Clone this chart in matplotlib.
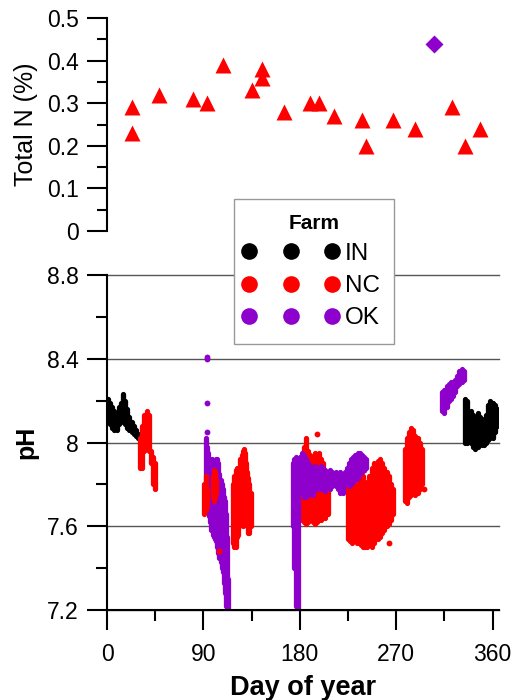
import matplotlib
matplotlib.use("Agg")
import matplotlib.pyplot as plt
from matplotlib.lines import Line2D
from matplotlib.legend_handler import HandlerLine2D
from matplotlib.ticker import FixedLocator, FixedFormatter

plt.rcParams['font.family'] = ['Liberation Sans', 'DejaVu Sans']

RED = '#FF0000'
PURPLE = '#8E00CC'
BLACK = '#000000'

# ---------------- Top panel data: Total N (%) ----------------
tn_nc_day = [23, 23, 48.5, 80, 93, 108, 135, 144.5, 145, 165, 190, 198, 212, 238.5, 242, 267, 288, 322.5, 334.5, 348.5]
tn_nc_val = [0.29, 0.23, 0.32, 0.31, 0.30, 0.39, 0.33, 0.38, 0.36, 0.28, 0.30, 0.30, 0.27, 0.26, 0.20, 0.26, 0.24, 0.29, 0.20, 0.24]
tn_ok_day = [305]
tn_ok_val = [0.44]

# ---------------- Bottom panel data: pH ranges per day ----------------
in1_day = [1, 3, 5, 7, 9, 11, 13, 15, 17, 19, 21, 23, 25, 27, 29]
in1_lo = [8.10, 8.09, 8.07, 8.06, 8.06, 8.09, 8.10, 8.11, 8.09, 8.07, 8.06, 8.05, 8.04, 8.03, 8.02]
in1_hi = [8.21, 8.19, 8.17, 8.15, 8.14, 8.17, 8.19, 8.23, 8.20, 8.16, 8.12, 8.10, 8.08, 8.06, 8.04]

nc1_day = [31, 33, 35, 37, 39, 41, 43, 45]
nc1_lo = [7.88, 7.88, 7.96, 7.98, 7.96, 7.90, 7.80, 7.78]
nc1_hi = [8.02, 8.08, 8.13, 8.15, 8.13, 7.96, 7.93, 7.90]

ok1_day = [92, 93, 94, 95, 96, 97, 98, 99, 100, 101, 102, 103, 104, 105, 106, 107, 108, 109, 110, 111, 112, 113]
ok1_lo = [7.70, 7.70, 7.68, 7.65, 7.62, 7.58, 7.58, 7.56, 7.55, 7.54, 7.53, 7.50, 7.47, 7.45, 7.43, 7.40, 7.38, 7.33, 7.28, 7.22, 7.20, 7.20]
ok1_hi = [8.02, 7.98, 7.95, 7.92, 7.88, 7.90, 7.92, 7.90, 7.88, 7.90, 7.92, 7.92, 7.90, 7.85, 7.82, 7.80, 7.78, 7.74, 7.72, 7.66, 7.55, 7.35]
ok1_pt_day = [93, 93, 93, 93]
ok1_pt_val = [8.40, 8.41, 8.19, 8.05]

nc2_day = [91, 92, 93, 99, 100, 101, 102]
nc2_lo = [7.66, 7.68, 7.70, 7.74, 7.72, 7.74, 7.76]
nc2_hi = [7.80, 7.84, 7.78, 7.84, 7.87, 7.86, 7.82]
nc2_pt_day = [105]
nc2_pt_val = [7.48]

nc3_day = [118, 119, 120, 121, 122, 123, 124, 125, 126, 127, 128, 129, 130, 131, 132, 133, 134]
nc3_lo = [7.52, 7.50, 7.50, 7.55, 7.56, 7.60, 7.62, 7.63, 7.62, 7.60, 7.62, 7.64, 7.62, 7.60, 7.57, 7.57, 7.60]
nc3_hi = [7.80, 7.84, 7.87, 7.88, 7.86, 7.88, 7.92, 7.90, 7.94, 7.96, 7.97, 7.95, 7.90, 7.86, 7.83, 7.80, 7.76]

ok2_day = [174, 175, 176, 177, 178]
ok2_lo = [7.60, 7.40, 7.22, 7.20, 7.20]
ok2_hi = [7.90, 7.92, 7.93, 7.90, 7.85]

nc4_day = [182, 184, 186, 188, 190, 192, 194, 196, 198, 200, 202, 204, 206]
nc4_lo = [7.63, 7.62, 7.61, 7.62, 7.63, 7.62, 7.61, 7.62, 7.63, 7.63, 7.64, 7.64, 7.66]
nc4_hi = [7.93, 7.98, 8.02, 7.96, 7.94, 7.93, 7.95, 7.94, 7.95, 7.92, 7.90, 7.85, 7.80]
nc4_pt_day = [196]
nc4_pt_val = [8.04]

ok3_day = [180, 182, 184, 186, 188, 190, 192, 194, 196, 198, 200, 202, 204, 206, 208, 210,
           212, 214, 216, 218, 220, 222, 224, 226, 228, 230, 232, 234, 236, 238, 240, 242]
ok3_lo = [7.80, 7.76, 7.74, 7.74, 7.75, 7.76, 7.75, 7.78, 7.78, 7.79, 7.78, 7.79, 7.77, 7.79, 7.78, 7.79,
          7.80, 7.79, 7.78, 7.76, 7.76, 7.80, 7.80, 7.79, 7.80, 7.81, 7.82, 7.83, 7.85, 7.86, 7.87, 7.88]
ok3_hi = [7.93, 7.95, 7.94, 7.92, 7.90, 7.89, 7.88, 7.89, 7.88, 7.87, 7.89, 7.88, 7.87, 7.86, 7.87, 7.86,
          7.85, 7.86, 7.85, 7.86, 7.85, 7.86, 7.88, 7.90, 7.92, 7.93, 7.94, 7.95, 7.95, 7.94, 7.93, 7.92]

nc5_day = [225, 227, 229, 231, 233, 235, 237, 239, 241, 243, 245, 247, 249, 251, 253, 255, 257, 259, 261, 263, 265, 267]
nc5_lo = [7.54, 7.53, 7.52, 7.53, 7.52, 7.52, 7.51, 7.50, 7.50, 7.50, 7.51, 7.50, 7.52, 7.55, 7.54, 7.55, 7.57, 7.58, 7.60, 7.61, 7.63, 7.66]
nc5_hi = [7.79, 7.78, 7.79, 7.80, 7.79, 7.83, 7.85, 7.84, 7.81, 7.80, 7.84, 7.88, 7.90, 7.89, 7.91, 7.92, 7.90, 7.88, 7.86, 7.84, 7.80, 7.78]
nc5_pt_day = [240, 263]
nc5_pt_val = [7.87, 7.52]

nc6_day = [278, 280, 282, 284, 286, 288, 290, 292, 294]
nc6_lo = [7.72, 7.71, 7.74, 7.75, 7.76, 7.75, 7.76, 7.78, 7.80]
nc6_hi = [7.97, 8.02, 8.05, 8.07, 8.06, 8.03, 8.02, 8.00, 7.97]
nc6_pt_day = [296]
nc6_pt_val = [7.78]

ok4_day = [313, 315, 317, 319, 321, 323, 325, 327, 329, 331, 333]
ok4_lo = [8.15, 8.14, 8.17, 8.20, 8.21, 8.22, 8.24, 8.27, 8.28, 8.29, 8.30]
ok4_hi = [8.24, 8.25, 8.27, 8.28, 8.29, 8.29, 8.30, 8.32, 8.34, 8.35, 8.34]

in2_day = [334, 336, 338, 340, 342, 344, 346, 348, 350, 352, 354, 356, 358, 360, 362, 364]
in2_lo = [8.00, 8.00, 8.02, 8.00, 7.98, 7.97, 7.98, 8.00, 7.99, 7.99, 8.00, 8.01, 8.02, 8.02, 8.05, 8.08]
in2_hi = [8.21, 8.20, 8.14, 8.15, 8.13, 8.12, 8.14, 8.12, 8.11, 8.10, 8.13, 8.18, 8.20, 8.19, 8.18, 8.16]

farms = ['IN', 'NC', 'OK']
farm_colors = [BLACK, RED, PURPLE]

x_ticks = [0, 90, 180, 270, 360]
x_ticklabels = ['0', '90', '180', '270', '360']
x_minor = [45, 135, 225, 315]
tn_ticks = [0, 0.1, 0.2, 0.3, 0.4, 0.5]
tn_ticklabels = ['0', '0.1', '0.2', '0.3', '0.4', '0.5']
tn_minor = [0.05, 0.15, 0.25, 0.35, 0.45]
ph_ticks = [7.2, 7.6, 8.0, 8.4, 8.8]
ph_ticklabels = ['7.2', '7.6', '8', '8.4', '8.8']
ph_minor = [7.4, 7.8, 8.2, 8.6]

# ---------------- Figure ----------------
W, H = 515, 700
fig = plt.figure(figsize=(W / 100, H / 100), dpi=100)

def px_axes(left, top, right, bottom):
    return fig.add_axes([left / W, 1 - bottom / H, (right - left) / W, (bottom - top) / H])

XMAX = 366
FS = 16.5

ax1 = px_axes(107, 18, 499, 231)
ax2 = px_axes(107, 275, 499, 610)

# top panel
ax1.plot(tn_nc_day, tn_nc_val, linestyle='none', marker='^', ms=11, color=RED, mec='none', clip_on=False)
ax1.plot(tn_ok_day, tn_ok_val, linestyle='none', marker='D', ms=9.5, color=PURPLE, mec='none', clip_on=False)
ax1.set_xlim(0, XMAX)
ax1.set_ylim(0, 0.5)
for s in ['top', 'right', 'bottom']:
    ax1.spines[s].set_visible(False)
ax1.spines['left'].set_linewidth(1.5)
ax1.set_xticks([])
ax1.yaxis.set_major_locator(FixedLocator(tn_ticks))
ax1.yaxis.set_major_formatter(FixedFormatter(tn_ticklabels))
ax1.yaxis.set_minor_locator(FixedLocator(tn_minor))
ax1.tick_params(axis='y', which='major', length=14.5, width=1.5, labelsize=FS, pad=6)
ax1.tick_params(axis='y', which='minor', length=7.5, width=1.5)
ax1.set_ylabel('Total N (%)', fontsize=18, labelpad=6)
ax1.patch.set_visible(False)

# bottom panel
def band(ax, d, lo, hi, c):
    lc = ax.vlines(d, lo, hi, colors=c, linewidth=3.8)
    lc.set_capstyle('round')
    return lc

def pts(ax, d, v, c):
    ax.plot(d, v, linestyle='none', marker='o', ms=4.2, color=c, mec='none')

band(ax2, in1_day, in1_lo, in1_hi, BLACK)
band(ax2, nc1_day, nc1_lo, nc1_hi, RED)
band(ax2, ok1_day, ok1_lo, ok1_hi, PURPLE)
pts(ax2, ok1_pt_day, ok1_pt_val, PURPLE)
band(ax2, nc2_day, nc2_lo, nc2_hi, RED)
pts(ax2, nc2_pt_day, nc2_pt_val, RED)
band(ax2, nc3_day, nc3_lo, nc3_hi, RED)
band(ax2, nc4_day, nc4_lo, nc4_hi, RED)
pts(ax2, nc4_pt_day, nc4_pt_val, RED)
band(ax2, nc5_day, nc5_lo, nc5_hi, RED)
pts(ax2, nc5_pt_day, nc5_pt_val, RED)
band(ax2, ok2_day, ok2_lo, ok2_hi, PURPLE)
band(ax2, ok3_day, ok3_lo, ok3_hi, PURPLE)
band(ax2, nc6_day, nc6_lo, nc6_hi, RED)
pts(ax2, nc6_pt_day, nc6_pt_val, RED)
band(ax2, ok4_day, ok4_lo, ok4_hi, PURPLE)
band(ax2, in2_day, in2_lo, in2_hi, BLACK)

ax2.set_xlim(0, XMAX)
ax2.set_ylim(7.2, 8.8)
for s in ['top', 'right']:
    ax2.spines[s].set_visible(False)
for s in ['left', 'bottom']:
    ax2.spines[s].set_linewidth(1.5)
    ax2.spines[s].set_zorder(5)
ax2.xaxis.set_major_locator(FixedLocator(x_ticks))
ax2.xaxis.set_major_formatter(FixedFormatter(x_ticklabels))
ax2.xaxis.set_minor_locator(FixedLocator(x_minor))
ax2.yaxis.set_major_locator(FixedLocator(ph_ticks))
ax2.yaxis.set_major_formatter(FixedFormatter(ph_ticklabels))
ax2.yaxis.set_minor_locator(FixedLocator(ph_minor))
ax2.tick_params(which='major', length=14.5, width=1.5, labelsize=FS, pad=6)
ax2.tick_params(axis='x', which='major', pad=9)
ax2.tick_params(which='minor', length=8, width=1.5)
ax2.yaxis.grid(True, which='major', color='#555555', linewidth=1.0, zorder=0)
ax2.set_axisbelow(True)
for gl in ax2.yaxis.get_gridlines():
    gl.set_clip_on(False)
ax2.set_ylabel('pH', fontsize=18, fontweight='bold', labelpad=6)
ax2.set_xlabel('Day of year', fontsize=19.5, fontweight='bold', labelpad=7)

# legend
handles = [Line2D([], [], linestyle='none', marker='o', ms=12, color=c, mec='none') for c in farm_colors]
leg = fig.legend(handles, farms, loc='upper left', bbox_to_anchor=(234 / W, 1 - 199 / H),
                 numpoints=3, handlelength=3.45, handletextpad=0.5, labelspacing=0.42,
                 fontsize=17.5, title='Farm', title_fontproperties={'weight': 'bold', 'size': 15},
                 frameon=True, fancybox=False, framealpha=1, edgecolor='#999999',
                 borderpad=0.6, borderaxespad=0,
                 handler_map={Line2D: HandlerLine2D(marker_pad=0.0)})
leg.get_frame().set_linewidth(1.0)

fig.savefig('out.png', dpi=100)
